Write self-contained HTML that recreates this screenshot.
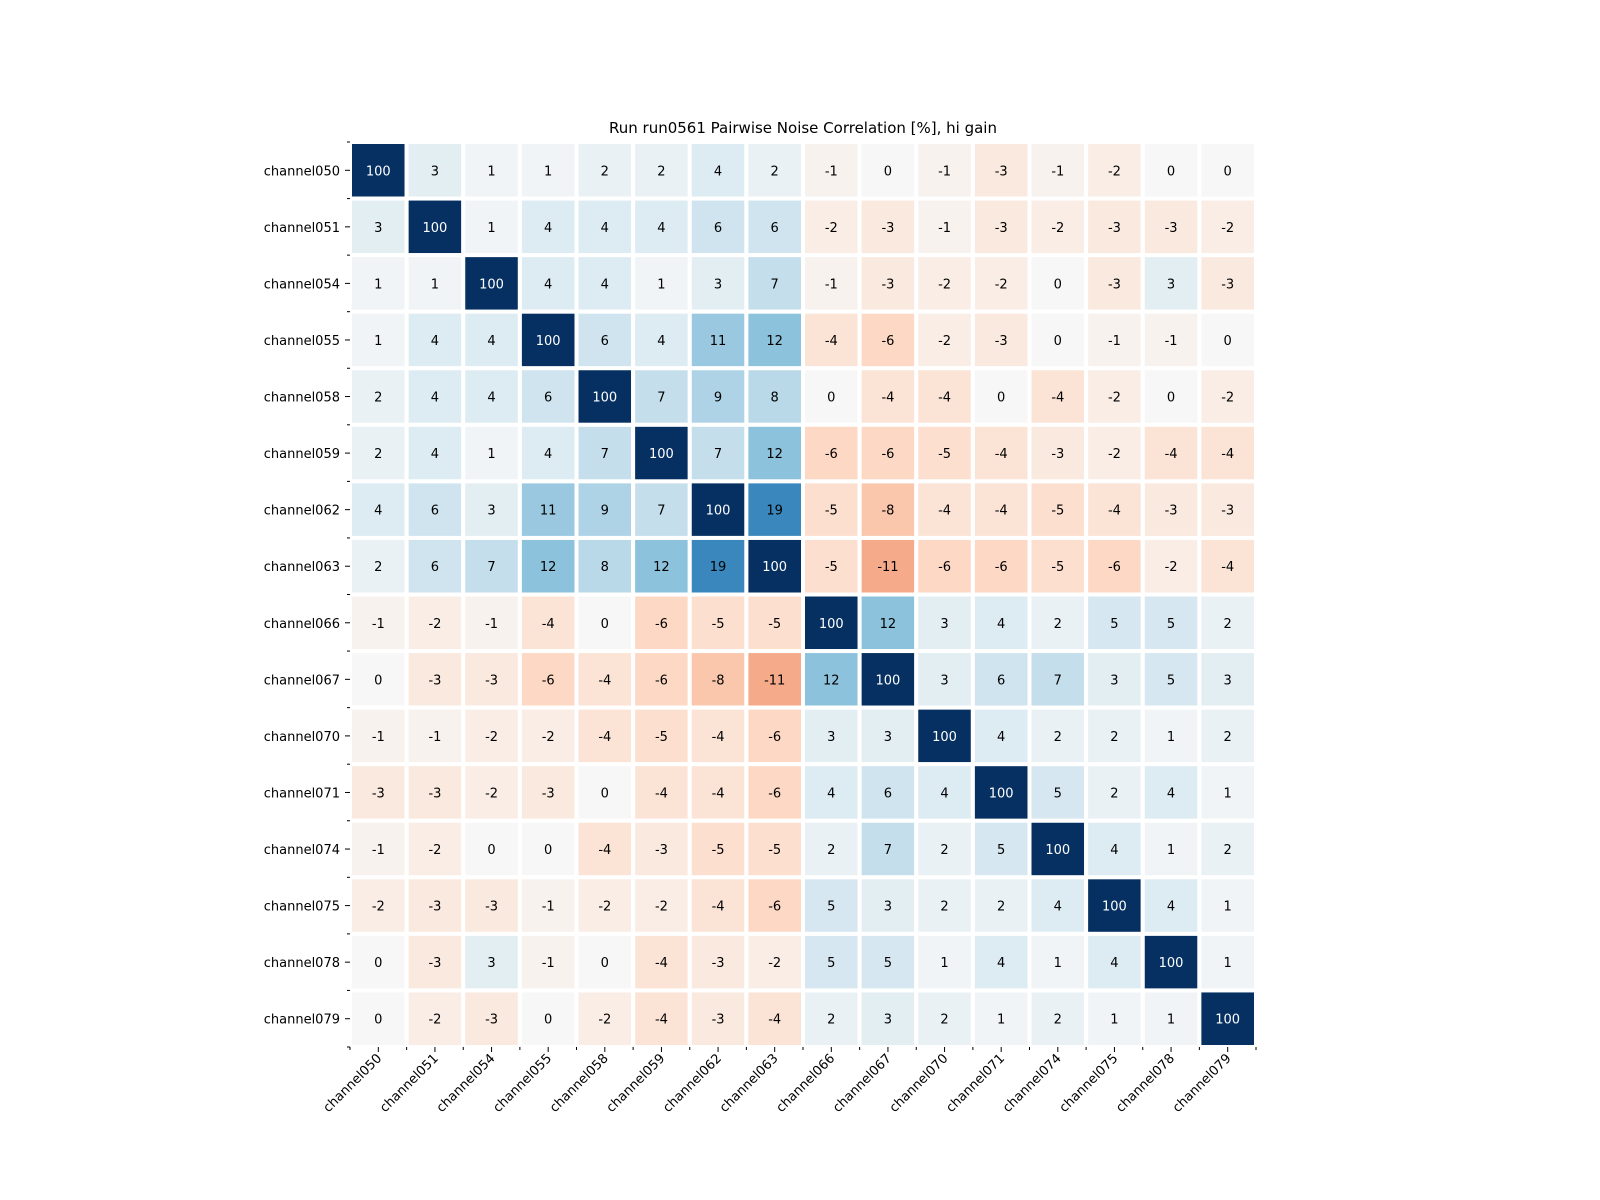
<!DOCTYPE html>
<html><head><meta charset="utf-8"><style>
html,body{margin:0;padding:0;background:#fff;}
svg{display:block;font-family:"DejaVu Sans","Liberation Sans",sans-serif;}
</style></head><body>
<svg id="chart" width="1600" height="1200" viewBox="0 0 1600 1200" xmlns="http://www.w3.org/2000/svg">
<rect width="1600" height="1200" fill="#fff"/>
<text x="803" y="133" text-anchor="middle" font-size="15">Run run0561 Pairwise Noise Correlation [%], hi gain</text>
<g id="cells"></g><g id="axes"></g>
</svg>
<script>
const channels = ["channel050","channel051","channel054","channel055","channel058","channel059","channel062","channel063","channel066","channel067","channel070","channel071","channel074","channel075","channel078","channel079"];
const row050 = [100,3,1,1,2,2,4,2,-1,0,-1,-3,-1,-2,0,0];
const row051 = [3,100,1,4,4,4,6,6,-2,-3,-1,-3,-2,-3,-3,-2];
const row054 = [1,1,100,4,4,1,3,7,-1,-3,-2,-2,0,-3,3,-3];
const row055 = [1,4,4,100,6,4,11,12,-4,-6,-2,-3,0,-1,-1,0];
const row058 = [2,4,4,6,100,7,9,8,0,-4,-4,0,-4,-2,0,-2];
const row059 = [2,4,1,4,7,100,7,12,-6,-6,-5,-4,-3,-2,-4,-4];
const row062 = [4,6,3,11,9,7,100,19,-5,-8,-4,-4,-5,-4,-3,-3];
const row063 = [2,6,7,12,8,12,19,100,-5,-11,-6,-6,-5,-6,-2,-4];
const row066 = [-1,-2,-1,-4,0,-6,-5,-5,100,12,3,4,2,5,5,2];
const row067 = [0,-3,-3,-6,-4,-6,-8,-11,12,100,3,6,7,3,5,3];
const row070 = [-1,-1,-2,-2,-4,-5,-4,-6,3,3,100,4,2,2,1,2];
const row071 = [-3,-3,-2,-3,0,-4,-4,-6,4,6,4,100,5,2,4,1];
const row074 = [-1,-2,0,0,-4,-3,-5,-5,2,7,2,5,100,4,1,2];
const row075 = [-2,-3,-3,-1,-2,-2,-4,-6,5,3,2,2,4,100,4,1];
const row078 = [0,-3,3,-1,0,-4,-3,-2,5,5,1,4,1,4,100,1];
const row079 = [0,-2,-3,0,-2,-4,-3,-4,2,3,2,1,2,1,1,100];
const matrix = [row050,row051,row054,row055,row058,row059,row062,row063,row066,row067,row070,row071,row074,row075,row078,row079];

const NS="http://www.w3.org/2000/svg";
const X0=350, Y0=142, W=906, H=905;
const n=channels.length, cw=W/n, ch=H/n;
const xPos=i=>X0+i*cw, yPos=j=>Y0+j*ch;
const VMAX=29;
const stops=["#67001f","#b2182b","#d6604d","#f4a582","#fddbc7","#f7f7f7","#d1e5f0","#92c5de","#4393c3","#2166ac","#053061"];
function hex(h){return [1,3,5].map(k=>parseInt(h.substr(k,2),16));}
function color(v){
  let t=0.5+v/(2*VMAX); t=Math.max(0,Math.min(1,t));
  const p=t*(stops.length-1), i=Math.min(Math.floor(p),stops.length-2), f=p-i;
  const a=hex(stops[i]), b=hex(stops[i+1]);
  return "rgb("+a.map((c,k)=>Math.round(c+(b[k]-c)*f)).join(",")+")";
}
function mk(tag,attrs,parent){const e=document.createElementNS(NS,tag);for(const k in attrs)e.setAttribute(k,attrs[k]);parent.appendChild(e);return e;}
const cells=document.getElementById("cells"), axes=document.getElementById("axes");
matrix.forEach((row,j)=>row.forEach((v,i)=>{
  const r=mk("rect",{x:xPos(i),y:yPos(j),width:cw,height:ch,fill:color(v),stroke:"#fff","stroke-width":4},cells);
  
  
  const t=mk("text",{x:xPos(i)+cw/2,y:yPos(j)+ch/2+5,"text-anchor":"middle","font-size":13,fill:Math.abs(v)>20?"#fff":"#000"},cells);
  
  
  t.textContent=v;
}));
channels.forEach((c,k)=>{
  const yt=mk("text",{x:340,y:yPos(k)+ch/2+5,"text-anchor":"end","font-size":13},axes);
  
  
  yt.textContent=c;
  mk("line",{x1:345,x2:350,y1:yPos(k)+ch/2,y2:yPos(k)+ch/2,stroke:"#000"},axes);
  const cx=xPos(k)+cw/2;
  mk("line",{x1:cx,x2:cx,y1:Y0+H,y2:Y0+H+5,stroke:"#000"},axes);
  const xt=mk("text",{x:cx+4,y:Y0+H+12,"text-anchor":"end","font-size":13,transform:`rotate(-45 ${cx+4} ${Y0+H+12})`},axes);
  
  
  xt.textContent=c;
});
for(let k=0;k<=n;k++){
  mk("line",{x1:347,x2:350,y1:yPos(k),y2:yPos(k),stroke:"#000"},axes);
  mk("line",{x1:xPos(k),x2:xPos(k),y1:Y0+H,y2:Y0+H+3,stroke:"#000"},axes);
}
</script>
</body></html>
